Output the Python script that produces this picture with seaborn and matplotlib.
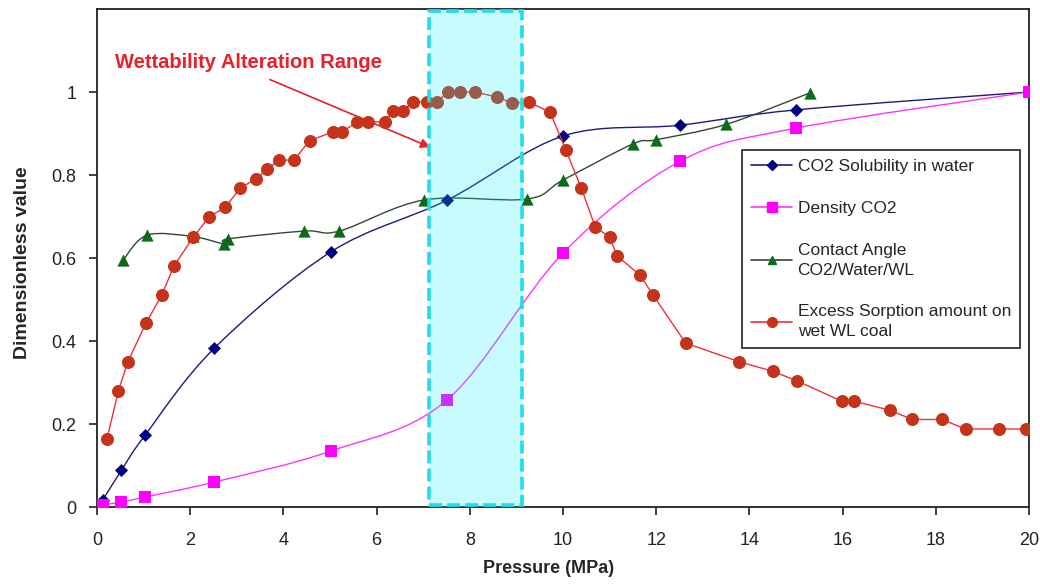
import matplotlib
matplotlib.use("Agg")
import matplotlib.pyplot as plt
import numpy as np
import pandas as pd
import seaborn as sns
from matplotlib.path import Path
from matplotlib.patches import PathPatch, Rectangle
from matplotlib.lines import Line2D
from matplotlib.ticker import FuncFormatter

# ---- data (normalised values vs pressure, MPa) ----
sol_p = [0.13, 0.52, 1.03, 2.52, 5.02, 7.52, 10.0, 12.5, 15.0, 20.0]
sol_v = [0.018, 0.088, 0.173, 0.383, 0.615, 0.740, 0.894, 0.920, 0.957, 1.0]

dens_p = [0.13, 0.52, 1.03, 2.51, 5.02, 7.51, 10.0, 12.51, 15.0, 20.0]
dens_v = [0.005, 0.012, 0.024, 0.060, 0.135, 0.258, 0.612, 0.833, 0.913, 1.0]

angle_p = [0.56, 1.07, 2.05, 2.73, 2.81, 4.45, 5.2, 7.02, 9.22, 10.0, 11.5, 12.0, 13.5, 15.3]
angle_v = [0.595, 0.655, 0.652, 0.634, 0.646, 0.665, 0.665, 0.740, 0.742, 0.788, 0.875, 0.885, 0.922, 0.998]

sorp_p = [0.21, 0.46, 0.66, 1.05, 1.39, 1.65, 2.07, 2.41, 2.75, 3.07, 3.41, 3.65, 3.91, 4.23,
          4.56, 5.07, 5.26, 5.58, 5.82, 6.18, 6.36, 6.57, 6.77, 7.07, 7.29, 7.54, 7.79, 8.11,
          8.58, 8.90, 9.27, 9.72, 10.06, 10.39, 10.69, 11.0, 11.16, 11.65, 11.93, 12.63, 13.78,
          14.5, 15.02, 15.98, 16.24, 17.02, 17.49, 18.13, 18.64, 19.36, 19.94]
sorp_v = [0.163, 0.280, 0.350, 0.443, 0.511, 0.581, 0.651, 0.700, 0.722, 0.768, 0.791, 0.814,
          0.836, 0.836, 0.883, 0.904, 0.904, 0.928, 0.928, 0.928, 0.954, 0.954, 0.977, 0.977,
          0.977, 1.0, 1.0, 1.0, 0.988, 0.974, 0.975, 0.952, 0.860, 0.769, 0.675, 0.650, 0.605,
          0.559, 0.511, 0.395, 0.350, 0.327, 0.304, 0.255, 0.255, 0.233, 0.211, 0.211, 0.188,
          0.188, 0.188]

labels = ["CO2 Solubility in water", "Density CO2",
          "Contact Angle\nCO2/Water/WL", "Excess Sorption amount on\nwet WL coal"]

x_ticks = [0, 2, 4, 6, 8, 10, 12, 14, 16, 18, 20]
y_ticks = [0, 0.2, 0.4, 0.6, 0.8, 1.0]
range_lo, range_hi = 7.12, 9.12

sns.set_style("white")
plt.rcParams["font.family"] = ["Liberation Sans", "DejaVu Sans"]

fig = plt.figure(figsize=(10.4, 5.86), dpi=100)
ax = fig.add_axes([0.0933, 0.1348, 0.8962, 0.8498])


def smooth_path(xs, ys):
    """Bezier path through the points (Catmull-Rom style smoothing)."""
    pts = np.column_stack([xs, ys]).astype(float)
    n = len(pts)
    verts = [pts[0]]
    codes = [Path.MOVETO]
    for i in range(n - 1):
        p0 = pts[i - 1] if i > 0 else pts[i]
        p1 = pts[i]
        p2 = pts[i + 1]
        p3 = pts[i + 2] if i + 2 < n else pts[i + 1]
        c1 = p1 + (p2 - p0) / 6.0
        c2 = p2 - (p3 - p1) / 6.0
        verts += [c1, c2, p2]
        codes += [Path.CURVE4] * 3
    return Path(verts, codes)


sol_line, sol_mark = "#1c1c78", "#000080"
dens_line, dens_mark = "#ff33ff", "#ff00ff"
ang_line, ang_mark = "#2e4a2e", "#0b6b1a"
sorp_line, sorp_mark = "#f0303a", "#c4331a"

# smoothed series
for xs, ys, col in [(sol_p, sol_v, sol_line), (dens_p, dens_v, dens_line), (angle_p, angle_v, ang_line)]:
    ax.add_patch(PathPatch(smooth_path(xs, ys), facecolor="none", edgecolor=col, lw=1.0, zorder=2))

sns.scatterplot(x=sol_p, y=sol_v, marker="D", s=44, color=sol_mark, edgecolor=sol_mark,
                linewidth=0, ax=ax, zorder=3)
sns.scatterplot(x=dens_p, y=dens_v, marker="s", s=80, color=dens_mark, edgecolor=dens_mark,
                linewidth=0, ax=ax, zorder=3)
sns.scatterplot(x=angle_p, y=angle_v, marker="^", s=78, color=ang_mark, edgecolor=ang_mark,
                linewidth=0, ax=ax, zorder=3)

sorp = pd.DataFrame({"p": sorp_p, "v": sorp_v})
sns.lineplot(data=sorp, x="p", y="v", estimator=None, sort=False, color=sorp_line, lw=1.0,
             ax=ax, zorder=4)
sns.scatterplot(data=sorp, x="p", y="v", marker="o", s=88, color=sorp_mark, edgecolor=sorp_mark,
                linewidth=0, ax=ax, zorder=5)

# wettability alteration range band (translucent, drawn over the data)
ax.add_patch(Rectangle((range_lo, 0), range_hi - range_lo, 1.2, facecolor="#00eef8",
                       alpha=0.22, edgecolor="none", zorder=6))
ax.add_patch(Rectangle((range_lo, 0.004), range_hi - range_lo, 1.192, facecolor="none",
                       edgecolor="#22dde8", lw=2.6, linestyle=(0, (3.6, 1.4)), zorder=7,
                       clip_on=False))

ax.text(0.39, 1.072, "Wettability Alteration Range", color="#e8202a", fontsize=14.5,
        fontweight="bold", va="center", ha="left")
ax.annotate("", xy=(7.15, 0.867), xytext=(3.71, 1.03),
            arrowprops=dict(arrowstyle="-|>", color="#e8202a", lw=1.2, mutation_scale=14,
                            shrinkA=0, shrinkB=0))

ax.set_xlim(0, 20)
ax.set_ylim(0, 1.2)
ax.set_xticks(x_ticks)
ax.set_yticks(y_ticks)
ax.yaxis.set_major_formatter(FuncFormatter(lambda v, _: f"{v:g}"))
ax.tick_params(axis="x", direction="out", length=6, width=1.2, pad=12, labelsize=13,
               colors="#222222", bottom=True)
ax.tick_params(axis="y", direction="out", length=6, width=1.2, pad=9, labelsize=13,
               colors="#222222", left=True)
for s in ax.spines.values():
    s.set_color("#222222")
    s.set_linewidth(1.3)
    s.set_visible(True)

ax.set_xlabel("Pressure (MPa)", fontsize=13, fontweight="bold")
ax.set_ylabel("Dimensionless value", fontsize=14, fontweight="bold")
ax.xaxis.set_label_coords(0.484, -0.106)
ax.yaxis.set_label_coords(-0.071, 0.49)

handles = [
    Line2D([], [], color=sol_line, marker="D", markersize=5, markerfacecolor=sol_mark,
           markeredgecolor=sol_mark, lw=1.2),
    Line2D([], [], color=dens_line, marker="s", markersize=7, markerfacecolor=dens_mark,
           markeredgecolor=dens_mark, lw=1.2),
    Line2D([], [], color=ang_line, marker="^", markersize=6, markerfacecolor=ang_mark,
           markeredgecolor=ang_mark, lw=1.2),
    Line2D([], [], color=sorp_line, marker="o", markersize=7, markerfacecolor=sorp_mark,
           markeredgecolor=sorp_mark, lw=1.2),
]
leg = ax.legend(handles, labels, loc="upper left", bbox_to_anchor=(0.692, 0.717),
                borderaxespad=0, fontsize=12.5, frameon=True, fancybox=False, framealpha=1,
                edgecolor="#222222", labelspacing=1.55, handlelength=2.4, handletextpad=0.3,
                borderpad=0.5)
for t in leg.get_texts():
    t.set_linespacing(1.4)
leg.get_frame().set_linewidth(1.2)
leg.set_zorder(10)

fig.savefig("out.png", dpi=100)
